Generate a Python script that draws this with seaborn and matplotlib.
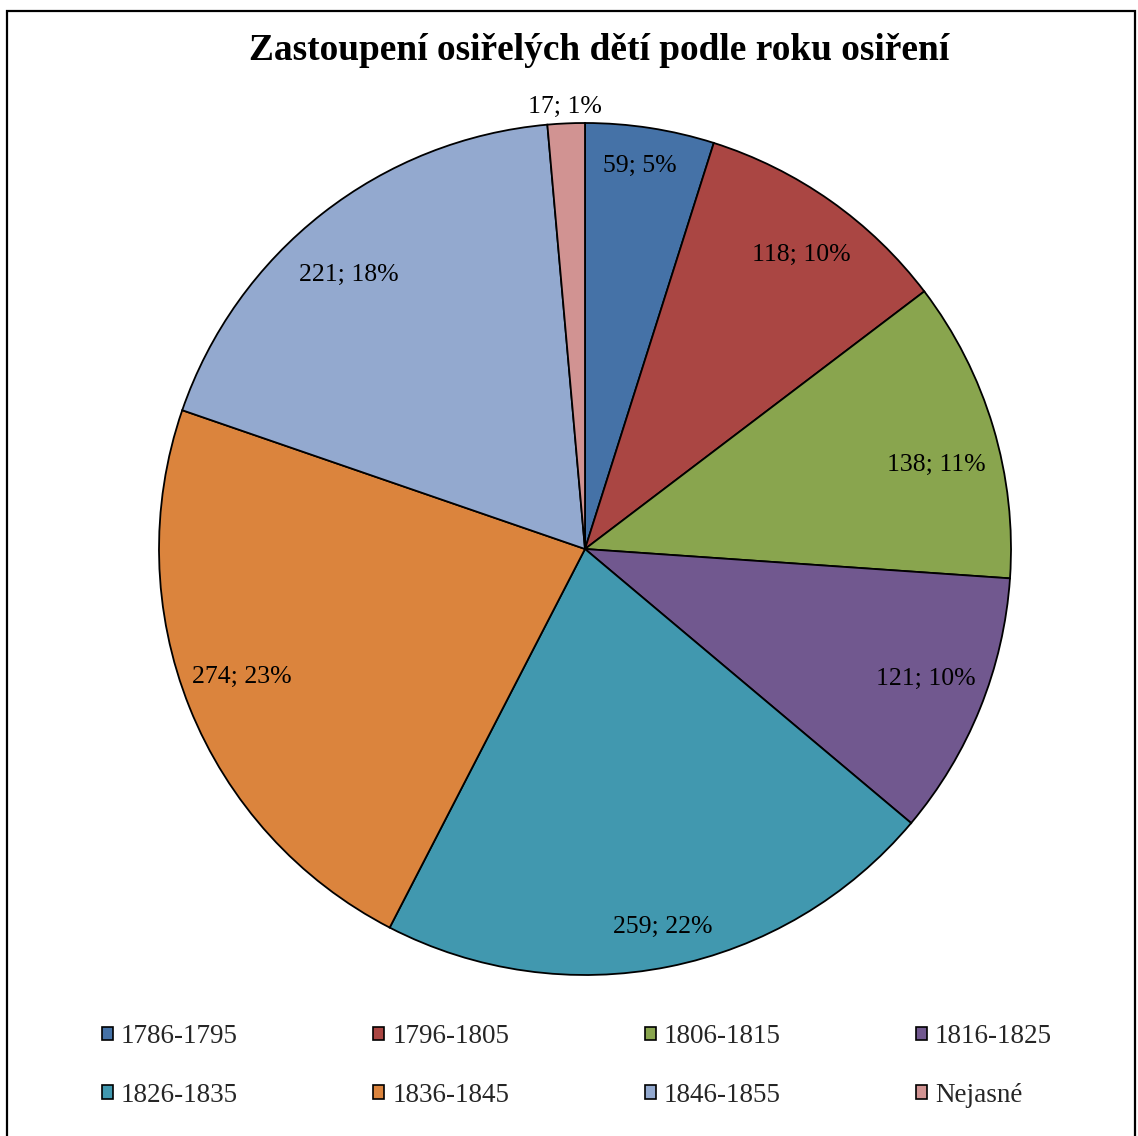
import matplotlib
matplotlib.use("Agg")
import matplotlib.pyplot as plt
import matplotlib.transforms as mtransforms
import seaborn as sns
import numpy as np
from matplotlib.patches import Rectangle, Patch

sns.set_theme(style="white")
plt.rcParams['font.family'] = ['Liberation Serif', 'DejaVu Serif']

categories = ["1786-1795", "1796-1805", "1806-1815", "1816-1825",
              "1826-1835", "1836-1845", "1846-1855", "Nejasné"]
counts = [59, 118, 138, 121, 259, 274, 221, 17]
percents = [5, 10, 11, 10, 22, 23, 18, 1]
colors = sns.color_palette(["#4572A7", "#AA4643", "#89A54E", "#71588F",
                            "#4198AF", "#DB843D", "#93A9CF", "#D19392"])
title = "Zastoupení osiřelých dětí podle roku osiření"

W, H = 1138, 1136
fig = plt.figure(figsize=(W / 100, H / 100), dpi=100)

# border
fig.patches.append(Rectangle((7 / W, -0.05), (1135 - 7) / W, 1.05 - 11 / H,
                             transform=fig.transFigure, fill=False,
                             edgecolor="black", linewidth=1.6))

cx, cy, r = 585, 1136 - 549, 426
ax = fig.add_axes([(cx - r) / W, (cy - r) / H, 2 * r / W, 2 * r / H])
wedges, _ = ax.pie(counts, colors=colors, startangle=90, counterclock=False,
                   radius=1, wedgeprops=dict(edgecolor="black", linewidth=1.3))
ax.set_xlim(-1, 1)
ax.set_ylim(-1, 1)
ax.set_aspect("equal")
ax.axis("off")

# label placement: radial distance and angular offset (deg) from wedge middle
dists = [0.915, 0.863, 0.849, 0.854, 0.899, 0.857, 0.854, 1.046]
ang_off = [0.7, -0.9, -2.7, 1.6, 0.4, -1.9, 2.4, 0.0]
shift = mtransforms.offset_copy(ax.transData, fig=fig, x=0, y=-3, units="dots")
for w, c, p, d, o in zip(wedges, counts, percents, dists, ang_off):
    ang = np.deg2rad((w.theta1 + w.theta2) / 2 + o)
    ax.text(d * np.cos(ang), d * np.sin(ang), f"{c}; {p}%", transform=shift,
            ha="center", va="center", fontsize=18.5, color="black", clip_on=False)

fig.text(599 / W, 1 - 51 / H, title, ha="center", va="center",
         fontsize=26.9, fontweight="bold", color="black")

# legend in row-major order (matplotlib fills columns first)
handles = [Patch(facecolor=col, edgecolor="black", linewidth=1.2) for col in colors]
order = [0, 4, 1, 5, 2, 6, 3, 7]
fig.legend([handles[i] for i in order], [categories[i] for i in order],
           ncol=4, loc="center",
           bbox_to_anchor=(577 / W, 1 - 1066 / H), frameon=False,
           fontsize=19.5, handlelength=0.4, handleheight=0.4, handletextpad=0.3,
           columnspacing=5.0, labelspacing=1.25, borderpad=0, borderaxespad=0)

fig.savefig("out.png", dpi=100)
